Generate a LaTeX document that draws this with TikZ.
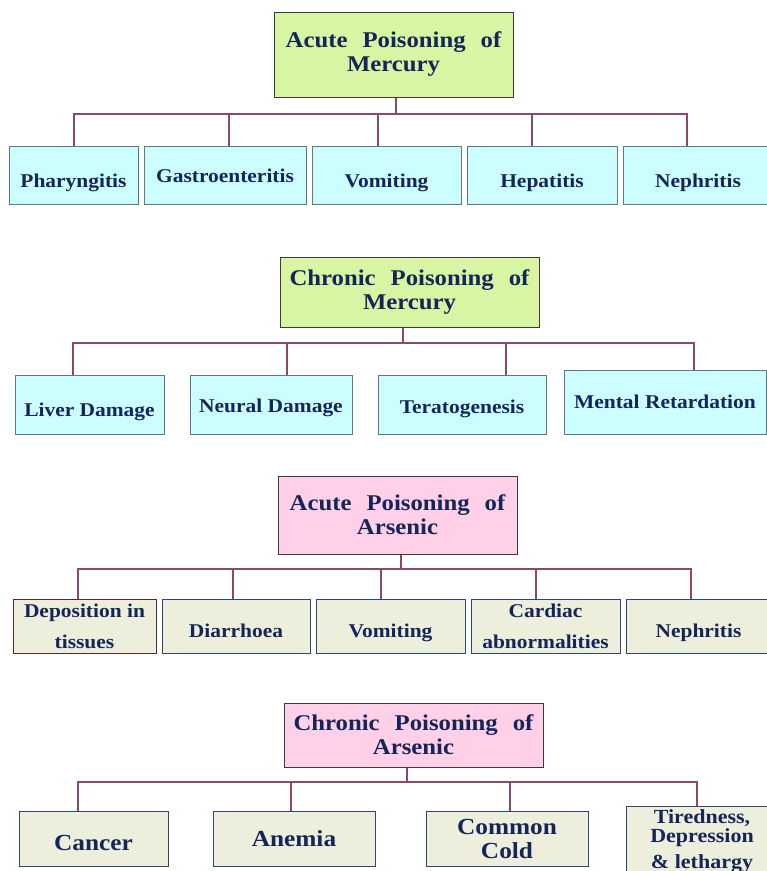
\documentclass[tikz,border=0pt]{standalone}
\usepackage{fontspec}
\setmainfont{Liberation Serif}[FakeStretch=1.1]

\definecolor{ink}{HTML}{14255A}
\definecolor{lime}{HTML}{D8F5A4}
\definecolor{aqua}{HTML}{CCFEFF}
\definecolor{rose}{HTML}{FFD0E8}
\definecolor{cream}{HTML}{EEEEDC}
\definecolor{wire}{HTML}{8A4A6A}
\definecolor{edgehead}{HTML}{3A3A3A}
\definecolor{edgeaqua}{HTML}{607880}
\definecolor{edgecream}{HTML}{2D4870}
\definecolor{edgebrown}{HTML}{5A2A2A}

\newcommand{\wsp}{\hspace{15pt}}

\tikzset{
  head/.style={draw=edgehead, line width=1pt, align=center, inner sep=0pt, text=ink,
    font=\fontsize{22.5}{24}\selectfont\bfseries},
  leaf/.style={draw=edgeaqua, line width=1pt, fill=aqua, align=center, inner sep=0pt,
    text=ink, minimum height=59, font=\fontsize{19.5}{24}\selectfont\bfseries},
  leafB/.style={leaf, draw=edgecream, fill=cream, minimum height=54},
  mid/.style={text depth=0pt, text height=#1},
  mid/.default=24pt,
  link/.style={draw=wire, line width=1.3pt},
}

\begin{document}
\begin{tikzpicture}[x=1pt, y=-1pt]
\useasboundingbox (0,0) rectangle (767,871);
\clip (0,0) rectangle (767,871);

% acute poisoning of mercury
\node[head, fill=lime, minimum width=239, minimum height=85] (hgA) at (393.5,54.5) {Acute\wsp Poisoning\wsp of\\Mercury};
\node[leaf, mid, minimum width=129, minimum height=58] (pha) at (73.5,175) {Pharyngitis};
\node[leaf, mid=14pt, minimum width=162, minimum height=58] (gas) at (225,175) {Gastroenteritis};
\node[leaf, mid, minimum width=149, minimum height=58] (vomA) at (386.5,175) {Vomiting};
\node[leaf, mid, minimum width=150, minimum height=58] (hep) at (542,175) {Hepatitis};
\node[leaf, mid, minimum width=150, minimum height=58] (nepA) at (698,175) {Nephritis};

\coordinate (barA) at (396,114);
\draw[link] (hgA.south -| barA) -- (barA);
\foreach \n/\dx in {pha/0.5, gas/4, vomA/-8.5, hep/-10, nepA/-11}
  \draw[link] ([xshift=\dx]\n.north) |- (barA);

% chronic poisoning of mercury
\node[head, fill=lime, minimum width=259, minimum height=70] (hgB) at (409.5,292) {Chronic\wsp Poisoning\wsp of\\Mercury};
\node[leaf, mid=23pt, minimum width=149] (liv) at (89.5,404.5) {Liver Damage};
\node[leaf, mid=15pt, minimum width=162] (neu) at (271,404.5) {Neural Damage};
\node[leaf, mid=17pt, minimum width=168] (ter) at (462,404.5) {Teratogenesis};
\node[leaf, mid=12pt, minimum width=202, minimum height=64] (men) at (665,402) {Mental Retardation};

\coordinate (barB) at (403,343);
\draw[link] (hgB.south -| barB) -- (barB);
\foreach \n/\dx in {liv/-16.5, neu/16, ter/44, men/29}
  \draw[link] ([xshift=\dx]\n.north) |- (barB);

% acute poisoning of arsenic
\node[head, fill=rose, minimum width=239, minimum height=78] (hgC) at (397.5,515) {Acute\wsp Poisoning\wsp of\\Arsenic};
\node[leafB, draw=edgebrown, minimum width=143] (dep) at (84.5,626) {Deposition in\\[7pt]tissues};
\node[leafB, mid=22pt, minimum width=148] (dia) at (236,626) {Diarrhoea};
\node[leafB, mid=22pt, minimum width=149] (vomB) at (390.5,626) {Vomiting};
\node[leafB, minimum width=149] (car) at (545.5,626) {Cardiac\\[7pt]abnormalities};
\node[leafB, mid=22pt, minimum width=145] (nepB) at (698.5,626) {Nephritis};

\coordinate (barC) at (401,569);
\draw[link] (hgC.south -| barC) -- (barC);
\foreach \n/\dx in {dep/-6.5, dia/-3, vomB/-9.5, car/-9.5, nepB/-7.5}
  \draw[link] ([xshift=\dx]\n.north) |- (barC);

% chronic poisoning of arsenic
\node[head, fill=rose, minimum width=259, minimum height=64] (hgD) at (413.5,735) {Chronic\wsp Poisoning\wsp of\\Arsenic};
\node[leafB, mid=23pt, minimum width=149, minimum height=55, font=\fontsize{23}{24}\selectfont\bfseries] (can) at (93.5,838.5) {Cancer};
\node[leafB, mid=15pt, minimum width=162, minimum height=55, font=\fontsize{23}{24}\selectfont\bfseries] (ane) at (294,838.5) {Anemia};
\node[leafB, minimum width=162, minimum height=55, font=\fontsize{23}{24}\selectfont\bfseries] (com) at (507,838.5) {Common\\Cold};
\node[leafB, minimum width=152, minimum height=0, inner ysep=2.5pt, font=\fontsize{20}{19}\selectfont\bfseries] (tir) at (702,841) {Tiredness,\\Depression\\[7pt]\& lethargy};

\coordinate (barD) at (407,782);
\draw[link] (hgD.south -| barD) -- (barD);
\foreach \n/\dx in {can/-15.5, ane/-3, com/3, tir/-5}
  \draw[link] ([xshift=\dx]\n.north) |- (barD);

\end{tikzpicture}
\end{document}
